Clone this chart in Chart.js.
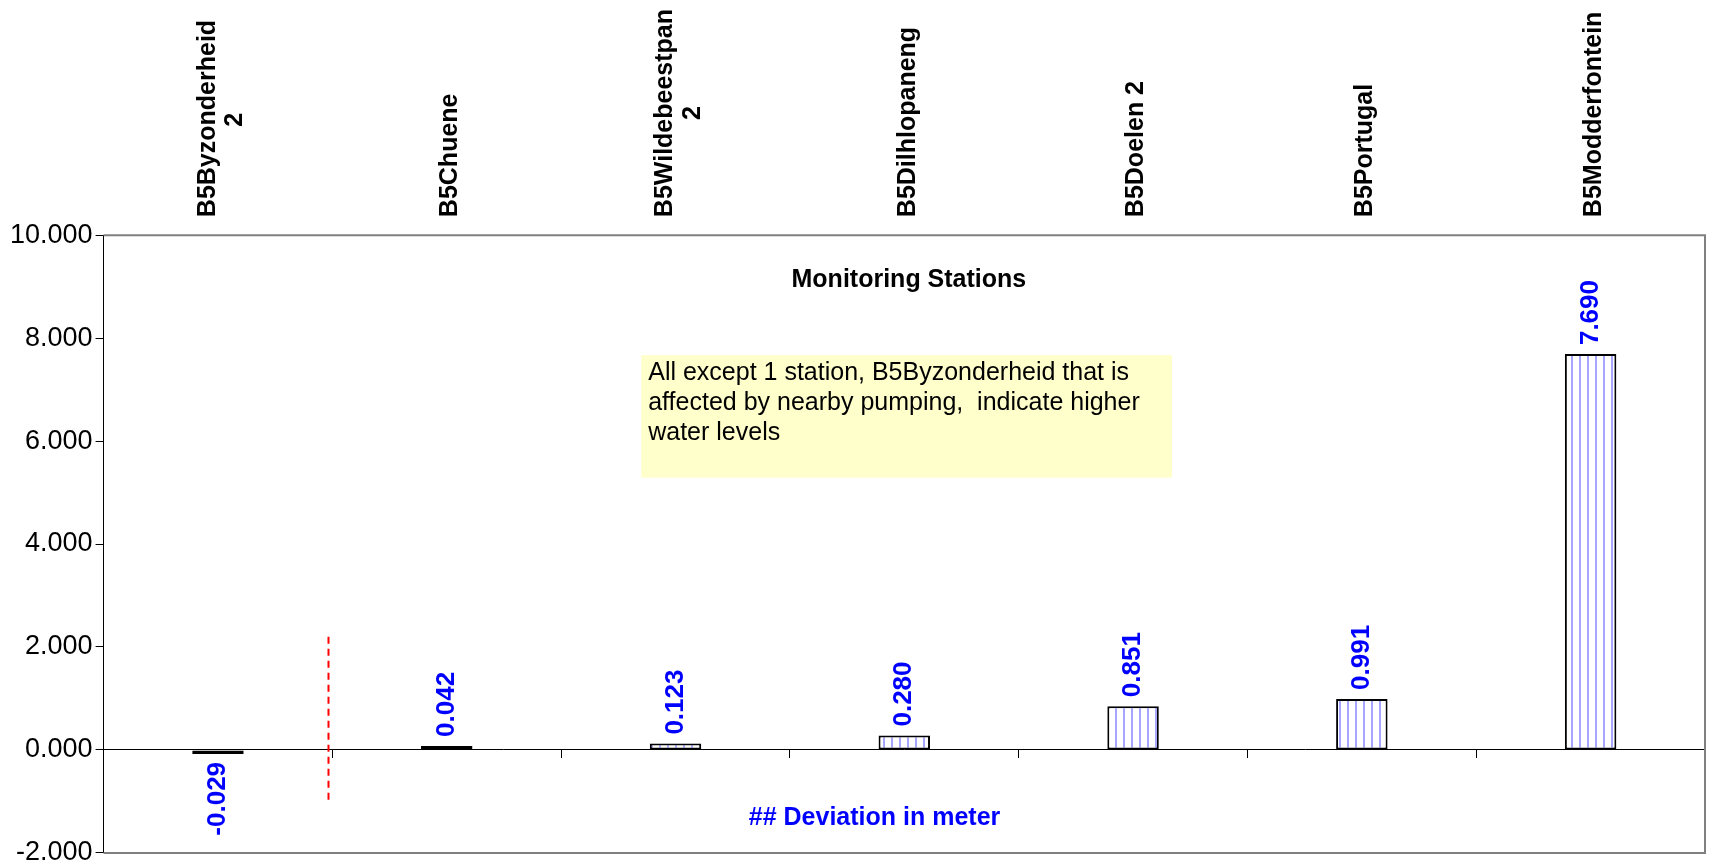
<!DOCTYPE html>
<html>
<head>
<meta charset="utf-8">
<script src="https://cdn.jsdelivr.net/npm/chart.js@4.4.0/dist/chart.umd.min.js"></script>
<style>
  html, body { margin: 0; padding: 0; background: #fff; }
</style>
</head>
<body>
<canvas id="chart" width="1711" height="864"></canvas>
<script>
// station names on the top axis; three half-height lines so that single names
// sit on the middle line and two-line names straddle it
const stations = [
  ['B5Byzonderheid', '', '             2'],
  ['', 'B5Chuene', ''],
  ['B5Wildebeestpan', '', '              2'],
  ['', 'B5Dilhlopaneng', ''],
  ['', 'B5Doelen 2', ''],
  ['', 'B5Portugal', ''],
  ['', 'B5Modderfontein', '']
];
// deviation in meter
const deviation = [-0.029, 0.042, 0.123, 0.280, 0.851, 0.991, 7.690];
const yTicks = [-2, 0, 2, 4, 6, 8, 10];

const chartTitle = 'Monitoring Stations';
const axisNote = '## Deviation in meter';
const noteLines = [
  'All except 1 station, B5Byzonderheid that is',
  'affected by nearby pumping,  indicate higher',
  'water levels'
];

const FONT = "'Liberation Sans', Arial, Helvetica, sans-serif";
Chart.defaults.font.family = FONT;
Chart.defaults.color = '#000';

// white bar with thin blue vertical stripes
const stripes = (function () {
  const c = document.createElement('canvas');
  c.width = 8; c.height = 8;
  const g = c.getContext('2d');
  g.fillStyle = '#fff';
  g.fillRect(0, 0, 8, 8);
  g.fillStyle = '#a6a6ff';
  g.fillRect(3, 0, 2, 8);
  return g.createPattern(c, 'repeat');
})();

// grey frame round the plot (left side is the black value axis)
const frame = {
  id: 'frame',
  beforeDatasetsDraw(chart) {
    const { ctx, chartArea: a } = chart;
    ctx.save();
    ctx.strokeStyle = '#808080';
    ctx.lineWidth = 2;
    ctx.beginPath();
    ctx.moveTo(a.left, a.top);
    ctx.lineTo(a.right, a.top);
    ctx.lineTo(a.right, a.bottom);
    ctx.lineTo(a.left, a.bottom);
    ctx.stroke();
    ctx.restore();
  }
};

// text box, titles and the red split line, placed with the scales
const notes = {
  id: 'notes',
  beforeDatasetsDraw(chart) {
    const { ctx } = chart;
    const x = chart.scales.x, y = chart.scales.y;
    ctx.save();

    // yellow comment box
    const bx1 = x.getPixelForValue(1.85), bx2 = x.getPixelForValue(4.17);
    const by1 = y.getPixelForValue(7.67), by2 = y.getPixelForValue(5.29);
    ctx.fillStyle = '#ffffcc';
    ctx.fillRect(bx1, by1, bx2 - bx1, by2 - by1);
    ctx.fillStyle = '#000';
    ctx.font = '25px ' + FONT;
    ctx.textAlign = 'left';
    ctx.textBaseline = 'middle';
    noteLines.forEach((t, i) => ctx.fillText(t, bx1 + 7, by1 + 18 + i * 30));

    // titles
    ctx.textAlign = 'center';
    ctx.font = 'bold 25px ' + FONT;
    ctx.fillText(chartTitle, x.getPixelForValue(3.02), y.getPixelForValue(9.12));
    ctx.fillStyle = '#0000ff';
    ctx.fillText(axisNote, x.getPixelForValue(2.87), y.getPixelForValue(-1.32));

    // red dashed line
    const lx = Math.round(x.getPixelForValue(0.48)) + 0.5;
    ctx.strokeStyle = '#ff0000';
    ctx.lineWidth = 2;
    ctx.setLineDash([7, 5]);
    ctx.beginPath();
    ctx.moveTo(lx, y.getPixelForValue(2.2));
    ctx.lineTo(lx, y.getPixelForValue(-1.0));
    ctx.stroke();
    ctx.restore();
  }
};

// blue value labels, written upwards
const valueLabels = {
  id: 'valueLabels',
  afterDatasetsDraw(chart) {
    const { ctx } = chart;
    const meta = chart.getDatasetMeta(0);
    ctx.save();
    ctx.font = 'bold 26px ' + FONT;
    ctx.fillStyle = '#0000ff';
    ctx.textBaseline = 'middle';
    meta.data.forEach((bar, i) => {
      const v = deviation[i];
      const neg = v < 0;
      ctx.save();
      ctx.translate(bar.x, neg ? Math.max(bar.y, bar.base) + 8 : Math.min(bar.y, bar.base) - 9);
      ctx.rotate(-Math.PI / 2);
      ctx.textAlign = neg ? 'right' : 'left';
      ctx.fillText(v.toFixed(3), 0, 0);
      ctx.restore();
    });
    ctx.restore();
  }
};

new Chart(document.getElementById('chart'), {
  type: 'bar',
  data: {
    labels: stations,
    datasets: [{
      label: 'Deviation in meter',
      data: deviation,
      backgroundColor: stripes,
      borderColor: '#000',
      borderWidth: 2,
      borderSkipped: false,
      minBarLength: 4,
      barPercentage: 0.225,
      categoryPercentage: 1
    }]
  },
  options: {
    responsive: false,
    animation: false,
    layout: { padding: { left: 7, right: 6, top: -9, bottom: 9 } },
    plugins: {
      legend: { display: false },
      tooltip: { enabled: false }
    },
    scales: {
      x: {
        position: 'top',
        offset: true,
        grid: { display: false, drawTicks: false },
        border: { display: false },
        ticks: {
          autoSkip: false,
          minRotation: 90,
          maxRotation: 90,
          padding: 18,
          labelOffset: 31,
          font: { size: 25, weight: 'bold', lineHeight: 0.55 },
          color: '#000'
        }
      },
      x2: {
        type: 'category',
        position: { y: 0 },
        offset: true,
        grid: { offset: true, drawOnChartArea: false, tickLength: 8, color: '#000', lineWidth: 1 },
        border: { color: '#000', width: 1 },
        ticks: { display: false }
      },
      y: {
        min: -2,
        max: 10,
        afterBuildTicks: (scale) => { scale.ticks = yTicks.map(v => ({ value: v })); },
        grid: { drawOnChartArea: false, tickLength: 8, color: '#000' },
        border: { color: '#000', width: 1 },
        ticks: {
          padding: 3,
          font: { size: 27, lineHeight: 0.6 },
          color: '#000',
          callback: (v) => Number(v).toFixed(3)
        }
      }
    }
  },
  plugins: [frame, notes, valueLabels]
});
</script>
</body>
</html>
